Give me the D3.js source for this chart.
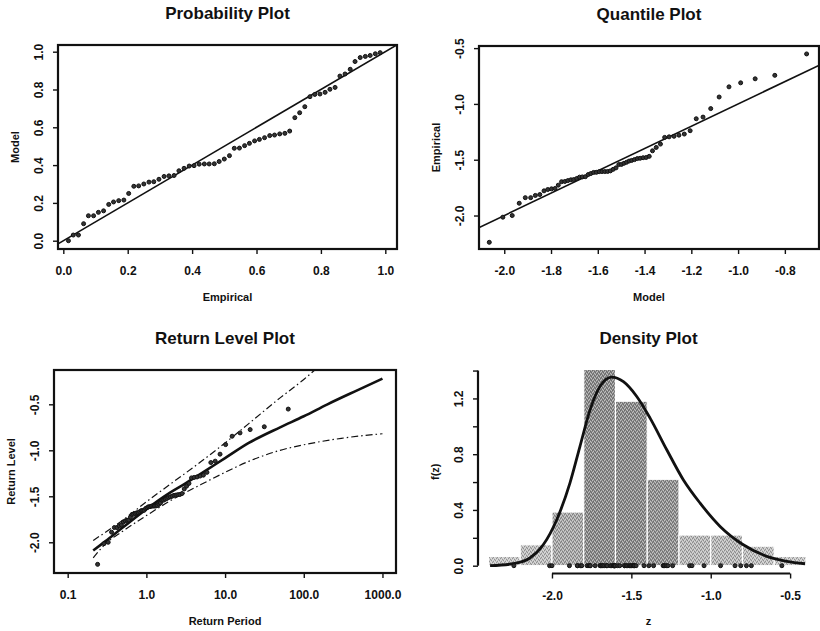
<!DOCTYPE html>
<html>
<head>
<meta charset="utf-8">
<script src="https://cdn.jsdelivr.net/npm/d3@7"></script>
<style>
  body { margin: 0; background: #fff; }
  svg text { font-family: "Liberation Sans", Arial, Helvetica, sans-serif; fill: #111; }
</style>
</head>
<body>
<svg id="chart" width="820" height="631"></svg>
<script>
// ---- data ----
// plotting positions (empirical probability) of the 63 sorted observations
const pEmp = [0.016,0.031,0.047,0.063,0.078,0.094,0.109,0.125,0.141,0.156,0.172,0.188,0.203,0.219,0.234,0.25,0.266,0.281,0.297,0.313,
  0.328,0.344,0.359,0.375,0.391,0.406,0.422,0.438,0.453,0.469,0.484,0.5,0.516,0.531,0.547,0.563,0.578,0.594,0.609,0.625,
  0.641,0.656,0.672,0.688,0.703,0.719,0.734,0.75,0.766,0.781,0.797,0.813,0.828,0.844,0.859,0.875,0.891,0.906,0.922,0.938,
  0.953,0.969,0.984];
// fitted model probability of each observation
const pModel = [0.0,0.03,0.03,0.09,0.132,0.132,0.150,0.158,0.192,0.205,0.212,0.215,0.250,0.288,0.290,0.300,0.310,0.312,0.325,0.340,
  0.343,0.345,0.370,0.383,0.395,0.397,0.405,0.406,0.406,0.407,0.419,0.432,0.450,0.489,0.490,0.503,0.515,0.528,0.536,0.545,
  0.556,0.559,0.565,0.568,0.580,0.651,0.677,0.709,0.762,0.774,0.776,0.785,0.801,0.811,0.871,0.882,0.907,0.948,0.969,0.975,
  0.980,0.989,0.995];
// model quantiles
const qModel = [-2.064,-2.006,-1.966,-1.936,-1.910,-1.887,-1.867,-1.848,-1.830,-1.814,-1.798,-1.783,-1.769,-1.755,-1.741,-1.728,-1.715,-1.703,-1.690,-1.678,
  -1.666,-1.653,-1.641,-1.630,-1.618,-1.606,-1.594,-1.582,-1.570,-1.558,-1.546,-1.534,-1.522,-1.510,-1.499,-1.488,-1.477,-1.466,-1.455,-1.443,
  -1.431,-1.419,-1.406,-1.393,-1.380,-1.366,-1.350,-1.332,-1.314,-1.295,-1.274,-1.253,-1.230,-1.205,-1.179,-1.150,-1.117,-1.081,-1.039,-0.989,
  -0.927,-0.843,-0.707];
// sorted observations
const zSorted = [-2.24,-2.015,-2.0,-1.89,-1.840,-1.840,-1.820,-1.812,-1.779,-1.767,-1.761,-1.758,-1.728,-1.697,-1.695,-1.687,-1.680,-1.678,-1.668,-1.656,
  -1.654,-1.652,-1.633,-1.624,-1.614,-1.613,-1.607,-1.606,-1.606,-1.605,-1.600,-1.586,-1.573,-1.543,-1.542,-1.532,-1.523,-1.512,-1.506,-1.499,
  -1.490,-1.487,-1.482,-1.480,-1.470,-1.42,-1.39,-1.36,-1.30,-1.295,-1.29,-1.28,-1.27,-1.24,-1.133,-1.118,-1.042,-0.938,-0.847,-0.811,
  -0.775,-0.744,-0.552];
// empirical return periods
const retPeriod = [0.240,0.289,0.327,0.361,0.392,0.423,0.452,0.481,0.510,0.539,0.568,0.597,0.627,0.658,0.689,0.721,0.754,0.788,0.823,0.860,
  0.897,0.937,0.977,1.020,1.064,1.110,1.159,1.210,1.263,1.320,1.380,1.443,1.510,1.581,1.657,1.738,1.825,1.918,2.019,2.128,
  2.246,2.374,2.515,2.669,2.839,3.029,3.239,3.476,3.744,4.050,4.403,4.817,5.302,5.886,6.596,7.491,8.628,10.16,12.29,15.49,
  20.83,31.50,63.49];

// fitted return level curve and its confidence bounds
const rlPeriod = [0.211,0.3,0.5,1,2,3,5,10,20,50,100,200,500,1000];
const rlFit    = [-2.09,-1.99,-1.84,-1.64,-1.46,-1.37,-1.25,-1.085,-0.92,-0.75,-0.63,-0.50,-0.34,-0.22];
const ciUpPeriod = [0.211,0.5,1,2,5,10,20,50,100,150];
const ciUp       = [-1.98,-1.76,-1.56,-1.37,-1.12,-0.92,-0.71,-0.43,-0.23,-0.10];
const ciLoPeriod = [0.211,0.3,0.5,1,2,5,10,20,50,100,300,1000];
const ciLo       = [-2.17,-2.02,-1.88,-1.71,-1.55,-1.37,-1.24,-1.12,-1.00,-0.94,-0.87,-0.82];

// histogram (density scale) and fitted density
const binEdges = [-2.4,-2.2,-2.0,-1.8,-1.6,-1.4,-1.2,-1.0,-0.8,-0.6,-0.4];
const binDensity = [0.067,0.15,0.385,1.45,1.18,0.62,0.22,0.22,0.14,0.067];
const densZ = [-2.39,-2.244,-2.139,-2.055,-1.97,-1.887,-1.824,-1.76,-1.698,-1.624,-1.55,-1.466,-1.382,-1.277,-1.173,-1.067,-0.941,-0.795,-0.647,-0.521,-0.406];
const densF = [0.0,0.014,0.055,0.15,0.33,0.593,0.855,1.118,1.285,1.353,1.32,1.214,1.059,0.832,0.617,0.449,0.282,0.15,0.067,0.031,0.014];

// tick values and labels
const probTicks = [0, 0.2, 0.4, 0.6, 0.8, 1.0];
const probLabels = ["0.0","0.2","0.4","0.6","0.8","1.0"];
const qxTicks = [-2.0,-1.8,-1.6,-1.4,-1.2,-1.0,-0.8];
const qxLabels = ["-2.0","-1.8","-1.6","-1.4","-1.2","-1.0","-0.8"];
const halfTicks = [-2.0,-1.5,-1.0,-0.5];
const halfLabels = ["-2.0","-1.5","-1.0","-0.5"];
const rpTicks = [0.1, 1, 10, 100, 1000];
const rpLabels = ["0.1","1.0","10.0","100.0","1000.0"];
const densTicks = [0,0.2,0.4,0.6,0.8,1.0,1.2,1.4];
const densLabels = ["0.0","","0.4","","0.8","","1.2",""];

const svg = d3.select("#chart");
svg.append("rect").attr("width", 820).attr("height", 631).attr("fill", "#fff");

// halftone-like texture for the histogram bars
const defs = svg.append("defs");
const pat = defs.append("pattern").attr("id", "grain")
  .attr("width", 4).attr("height", 4).attr("patternUnits", "userSpaceOnUse");
[[0, 0], [2, 1], [1, 3], [3, 2]].forEach(([px, py]) => {
  pat.append("rect").attr("x", px).attr("y", py).attr("width", 1).attr("height", 1)
    .attr("fill", "#fff").attr("opacity", 0.45);
});
[[1, 1], [3, 0], [0, 2], [2, 3]].forEach(([px, py]) => {
  pat.append("rect").attr("x", px).attr("y", py).attr("width", 1).attr("height", 1)
    .attr("fill", "#000").attr("opacity", 0.25);
});

// panel frame, title, axes; returns a group with a clip path
function panel(o) {
  const b = o.box;
  const g = svg.append("g");
  g.append("clipPath").attr("id", o.id)
    .append("rect").attr("x", b.left).attr("y", b.top)
    .attr("width", b.right - b.left).attr("height", b.bottom - b.top);

  g.append("text")
    .attr("x", (b.left + b.right) / 2).attr("y", b.top - 32).attr("dy", "0.35em")
    .attr("text-anchor", "middle")
    .style("font-size", "17px").style("font-weight", "bold")
    .text(o.title);

  const xa = g.append("g").attr("transform", `translate(0,${b.bottom})`)
    .call(d3.axisBottom(o.x).tickValues(o.xTicks).tickFormat((d, i) => o.xLabels[i]).tickSize(5).tickSizeOuter(0));
  const ya = g.append("g").attr("transform", `translate(${b.left},0)`)
    .call(d3.axisLeft(o.y).tickValues(o.yTicks).tickFormat((d, i) => o.yLabels[i]).tickSize(5).tickSizeOuter(0));
  [xa, ya].forEach((a) => {
    a.select(".domain").remove();
    a.selectAll("line").attr("stroke", "#111").attr("stroke-width", 1.4);
    a.selectAll("text").style("font-size", "12px").style("font-weight", "bold");
  });
  xa.selectAll("text").attr("y", 22).attr("dy", "0.35em");
  ya.selectAll("text").attr("transform", "rotate(-90)").attr("text-anchor", "middle")
    .attr("x", 0).attr("y", -19).attr("dy", "0.35em");

  if (o.framed) {
    g.append("rect").attr("x", b.left).attr("y", b.top)
      .attr("width", b.right - b.left).attr("height", b.bottom - b.top)
      .attr("fill", "none").attr("stroke", "#111").attr("stroke-width", 2.2);
  } else {
    // axis lines only span first to last tick
    g.append("line").attr("x1", o.x(o.xTicks[0])).attr("x2", o.x(o.xTicks[o.xTicks.length - 1]))
      .attr("y1", b.bottom).attr("y2", b.bottom).attr("stroke", "#111").attr("stroke-width", 2.2);
    g.append("line").attr("y1", o.y(o.yTicks[0])).attr("y2", o.y(o.yTicks[o.yTicks.length - 1]))
      .attr("x1", b.left).attr("x2", b.left).attr("stroke", "#111").attr("stroke-width", 2.2);
  }

  g.append("text")
    .attr("x", (b.left + b.right) / 2).attr("y", b.bottom + 48).attr("dy", "0.35em")
    .attr("text-anchor", "middle")
    .style("font-size", "11px").style("font-weight", "bold")
    .text(o.xTitle);
  g.append("text")
    .attr("transform", `translate(${b.left - 43},${(b.top + b.bottom) / 2}) rotate(-90)`)
    .attr("dy", "0.35em").attr("text-anchor", "middle")
    .style("font-size", "11px").style("font-weight", "bold")
    .text(o.yTitle);
  return g;
}

function dots(g, xs, ys, x, y) {
  g.selectAll(null).data(xs).enter().append("circle")
    .attr("cx", (d) => x(d)).attr("cy", (d, i) => y(ys[i]))
    .attr("r", 2.0).attr("fill", "#333").attr("stroke", "#111").attr("stroke-width", 1.0);
}

// ---- Probability plot ----
const b1 = { left: 58, right: 397, top: 45, bottom: 249 };
const x1 = d3.scaleLinear().domain([-0.0165, 1.0363]).range([b1.left, b1.right]);
const y1 = d3.scaleLinear().domain([-0.0439, 1.0354]).range([b1.bottom, b1.top]);
const g1 = panel({ id: "c1", box: b1, x: x1, y: y1, title: "Probability Plot",
  xTicks: probTicks, xLabels: probLabels, yTicks: probTicks, yLabels: probLabels,
  xTitle: "Empirical", yTitle: "Model", framed: true });
g1.append("line").attr("clip-path", "url(#c1)")
  .attr("x1", x1(-0.1)).attr("y1", y1(-0.1)).attr("x2", x1(1.1)).attr("y2", y1(1.1))
  .attr("stroke", "#111").attr("stroke-width", 1.6);
dots(g1, pEmp, pModel, x1, y1);

// ---- Quantile plot ----
const b2 = { left: 479, right: 819, top: 46, bottom: 249 };
const x2 = d3.scaleLinear().domain([-2.108, -0.654]).range([b2.left, b2.right]);
const y2 = d3.scaleLinear().domain([-2.300, -0.481]).range([b2.bottom, b2.top]);
const g2 = panel({ id: "c2", box: b2, x: x2, y: y2, title: "Quantile Plot",
  xTicks: qxTicks, xLabels: qxLabels, yTicks: halfTicks, yLabels: halfLabels,
  xTitle: "Model", yTitle: "Empirical", framed: true });
g2.append("line").attr("clip-path", "url(#c2)")
  .attr("x1", x2(-2.5)).attr("y1", y2(-2.5)).attr("x2", x2(0)).attr("y2", y2(0))
  .attr("stroke", "#111").attr("stroke-width", 1.6);
dots(g2, qModel, zSorted, x2, y2);

// ---- Return level plot ----
const b3 = { left: 54, right: 396, top: 370, bottom: 573 };
const x3 = d3.scaleLog().domain([0.067, 1486]).range([b3.left, b3.right]);
const y3 = d3.scaleLinear().domain([-2.334, -0.127]).range([b3.bottom, b3.top]);
const g3 = panel({ id: "c3", box: b3, x: x3, y: y3, title: "Return Level Plot",
  xTicks: rpTicks, xLabels: rpLabels, yTicks: halfTicks, yLabels: halfLabels,
  xTitle: "Return Period", yTitle: "Return Level", framed: true });
const rlLine = (ts, vs) => d3.line().curve(d3.curveMonotoneX)
  .x((d) => x3(d)).y((d, i) => y3(vs[i]))(ts);
g3.append("path").attr("clip-path", "url(#c3)").attr("d", rlLine(ciUpPeriod, ciUp))
  .attr("fill", "none").attr("stroke", "#111").attr("stroke-width", 1.2).attr("stroke-dasharray", "7,3,1.5,3");
g3.append("path").attr("clip-path", "url(#c3)").attr("d", rlLine(ciLoPeriod, ciLo))
  .attr("fill", "none").attr("stroke", "#111").attr("stroke-width", 1.2).attr("stroke-dasharray", "7,3,1.5,3");
g3.append("path").attr("clip-path", "url(#c3)").attr("d", rlLine(rlPeriod, rlFit))
  .attr("fill", "none").attr("stroke", "#111").attr("stroke-width", 2.6);
dots(g3, retPeriod, zSorted, x3, y3);

// ---- Density plot ----
const b4 = { left: 478, right: 819, top: 370, bottom: 573.5 };
const x4 = d3.scaleLinear().domain([-2.466, -0.318]).range([b4.left, b4.right]);
const y4 = d3.scaleLinear().domain([-0.056, 1.404]).range([b4.bottom, b4.top]);
const shade = d3.scaleLinear().domain([0, 0.7]).range(["#cdcdcd", "#8c8c8c"]).clamp(true);
const g4 = panel({ id: "c4", box: b4, x: x4, y: y4, title: "Density Plot",
  xTicks: halfTicks, xLabels: halfLabels, yTicks: densTicks, yLabels: densLabels,
  xTitle: "z", yTitle: "f(z)", framed: false });
const bars = g4.insert("g", ":first-child").attr("clip-path", "url(#c4)")
  .selectAll("g").data(binDensity).enter().append("g");
bars.append("rect")
  .attr("x", (d, i) => x4(binEdges[i]))
  .attr("width", (d, i) => x4(binEdges[i + 1]) - x4(binEdges[i]))
  .attr("y", (d) => y4(d)).attr("height", (d) => y4(0) - y4(d))
  .attr("fill", (d) => shade(d));
bars.append("rect")
  .attr("x", (d, i) => x4(binEdges[i]))
  .attr("width", (d, i) => x4(binEdges[i + 1]) - x4(binEdges[i]))
  .attr("y", (d) => y4(d)).attr("height", (d) => y4(0) - y4(d))
  .attr("fill", "url(#grain)")
  .attr("stroke", "#fff").attr("stroke-width", 1.2);
g4.append("path").attr("clip-path", "url(#c4)")
  .attr("d", d3.line().curve(d3.curveMonotoneX).x((d) => x4(d)).y((d, i) => y4(densF[i]))(densZ))
  .attr("fill", "none").attr("stroke", "#111").attr("stroke-width", 2.8);
dots(g4, zSorted, zSorted.map(() => 0), x4, y4);
</script>
</body>
</html>
